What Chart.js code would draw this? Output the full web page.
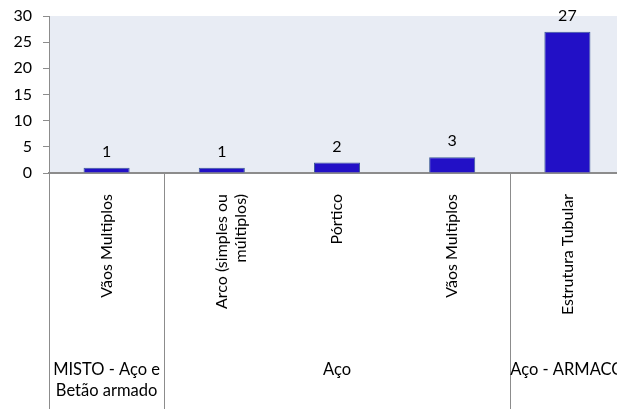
<!DOCTYPE html>
<html>
<head>
<meta charset="utf-8">
<script src="https://cdn.jsdelivr.net/npm/chart.js@4"></script>
<style>
  html, body { margin: 0; padding: 0; background: #fff; width: 617px; height: 409px; overflow: hidden; }
  canvas { display: block; }
</style>
</head>
<body>
<canvas id="chart" width="625" height="409"></canvas>
<script>
// Bridge structure types, grouped by material
const categories = ['Vãos Multiplos', ['Arco (simples ou', 'múltiplos)'], 'Pórtico', 'Vãos Multiplos', 'Estrutura Tubular'];
const counts = [1, 1, 2, 3, 27];
const groupNames = [['MISTO - Aço e', 'Betão armado'], ['Aço'], ['Aço - ARMACO']];
const groupSizes = [1, 3, 1];
const yTicks = [0, 5, 10, 15, 20, 25, 30];

const FONT = 'Lato, "Open Sans", sans-serif';
const AXIS_GREY = '#8c8c8c';

const decorations = {
  id: 'decorations',
  beforeDraw(chart) {
    const { ctx, chartArea: a } = chart;
    ctx.save();
    ctx.fillStyle = '#e8ecf4';
    ctx.fillRect(a.left, a.top, a.right - a.left, a.bottom - a.top);
    ctx.restore();
  },
  afterDraw(chart) {
    const { ctx, chartArea: a } = chart;
    const x = chart.scales.x;
    const H = chart.height;
    const step = x.getPixelForValue(1) - x.getPixelForValue(0);

    ctx.save();
    // value labels above the bars
    ctx.font = '16px ' + FONT;
    ctx.fillStyle = '#000';
    ctx.textAlign = 'center';
    ctx.textBaseline = 'alphabetic';
    chart.getDatasetMeta(0).data.forEach((bar, i) => {
      ctx.fillText(String(counts[i]), bar.x, bar.y - 11);
    });

    // group separators and group labels below the category labels
    ctx.font = '16.5px ' + FONT;
    ctx.strokeStyle = AXIS_GREY;
    ctx.lineWidth = 1;
    let start = 0;
    groupSizes.forEach((size, g) => {
      const left = Math.round(x.getPixelForValue(start) - step / 2) + 0.5;
      ctx.beginPath();
      ctx.moveTo(left, a.bottom);
      ctx.lineTo(left, H);
      ctx.stroke();
      const center = (x.getPixelForValue(start) + x.getPixelForValue(start + size - 1)) / 2;
      groupNames[g].forEach((line, k) => {
        ctx.fillText(line, center, 375 + k * 20.5);
      });
      start += size;
    });
    ctx.restore();
  }
};

new Chart(document.getElementById('chart'), {
  type: 'bar',
  data: {
    labels: categories,
    datasets: [{
      data: counts,
      backgroundColor: '#2210c6',
      borderColor: '#3c5a96',
      borderWidth: 1,
      categoryPercentage: 1,
      barPercentage: 0.4
    }]
  },
  options: {
    responsive: false,
    animation: false,
    layout: { padding: { top: 16, left: 0, right: 0, bottom: 0 } },
    plugins: { legend: { display: false }, tooltip: { enabled: false } },
    scales: {
      x: {
        grid: { display: false },
        border: { display: true, color: AXIS_GREY, width: 2 },
        ticks: {
          minRotation: 90, maxRotation: 90, padding: 13,
          color: '#000', font: { family: FONT, size: 16 }, autoSkip: false
        },
        afterFit(scale) {
          scale.height = 236;
          scale.paddingLeft = 0; scale.paddingRight = 0;
          scale.paddingTop = 0; scale.paddingBottom = 0;
        }
      },
      y: {
        min: 0, max: 30,
        afterBuildTicks(scale) { scale.ticks = yTicks.map(v => ({ value: v })); },
        grid: { drawOnChartArea: false, tickLength: 6, color: AXIS_GREY },
        border: { display: true, color: AXIS_GREY, width: 1 },
        ticks: { padding: 11, color: '#000', font: { family: FONT, size: 16 } },
        afterFit(scale) {
          scale.width = 49;
          scale.paddingTop = 0; scale.paddingBottom = 0;
          scale.paddingLeft = 0; scale.paddingRight = 0;
        }
      }
    }
  },
  plugins: [decorations]
});
</script>
</body>
</html>
